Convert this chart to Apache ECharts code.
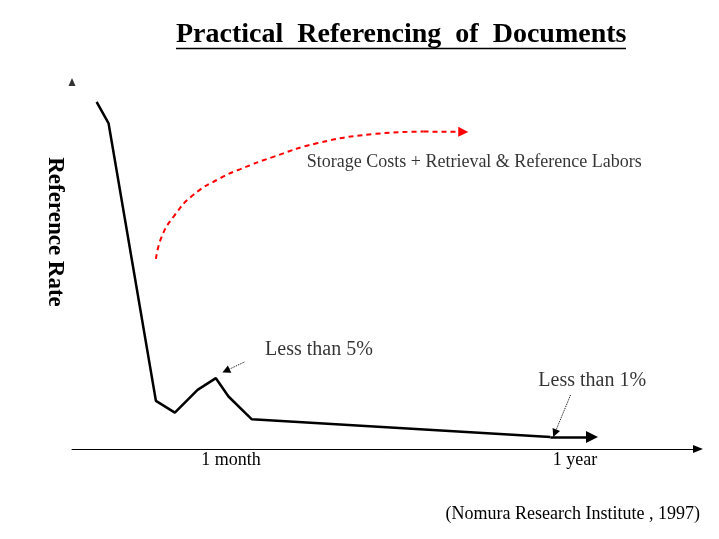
<!DOCTYPE html>
<html>
<head>
<meta charset="utf-8">
<script src="https://cdn.jsdelivr.net/npm/echarts@6/dist/echarts.min.js"></script>
<style>
html,body{margin:0;padding:0;background:#fff;}
#chart{width:719px;height:539px;}
</style>
</head>
<body>
<div id="chart"></div>
<script>
// ---- data ----
const titleText = 'Practical  Referencing  of  Documents';
const sourceText = '(Nomura Research Institute , 1997)';
const yAxisName = 'Reference Rate';
const xTickValues = [25.2, 79.7];
const xTickLabels = ['1 month', '1 year'];
// reference rate curve (abstract units 0-100)
const rateX = [3.9, 5.8, 13.3, 16.3, 19.9, 22.8, 24.8, 28.5, 75.8, 82.4];
const rateY = [94.6, 88.7, 13.1, 9.9, 16.1, 19.3, 14.3, 8.1, 3.3, 3.3];
// storage cost trend curve
const costX = [13.3, 14.2, 16.1, 19.2, 23.5, 26.6, 31.9, 38.8, 47.7, 55.7, 62.0];
const costY = [51.8, 57.8, 63.3, 69.2, 73.8, 76.2, 79.6, 83.3, 85.8, 86.5, 86.4];
// annotation texts
const noteText = ['Storage Costs + Retrieval & Reference Labors', 'Less than 5%', 'Less than 1%'];
const noteX = [37.2, 30.6, 73.9];
const noteY = [78.2, 27.0, 18.5];
// annotation pointer arrows
const pointerFromX = [27.3, 79.0];
const pointerFromY = [23.7, 14.7];
const pointerToX = [24.4, 76.5];
const pointerToY = [21.3, 4.3];
// y axis arrow head
const yArrowX = [0];
const yArrowY = [100];

// ---- chart ----
const serif = 'Liberation Serif, Times New Roman, serif';
const chart = echarts.init(document.getElementById('chart'), null, {renderer: 'canvas'});

const ratePts = rateX.map((x, i) => [x, rateY[i]]);
const costPts = costX.map((x, i) => [x, costY[i]]);
const n = ratePts.length, m = costPts.length;

const noteSizes = [18, 20, 20];

const option = {
  backgroundColor: '#ffffff',
  animation: false,
  title: [
    {
      text: titleText,
      left: 171, top: 16,
      textStyle: {fontFamily: serif, fontWeight: 'bold', fontSize: 28, color: '#000'}
    },
    {
      text: sourceText,
      right: 14, top: 500,
      textStyle: {fontFamily: serif, fontWeight: 'normal', fontSize: 18, color: '#000'}
    }
  ],
  graphic: [
    {type: 'line', shape: {x1: 176, y1: 48.5, x2: 626, y2: 48.5}, style: {stroke: '#000', lineWidth: 1.5}}
  ],
  grid: {left: 72, right: 21, top: 82, bottom: 90, containLabel: false, outerBoundsMode: 'none'},
  xAxis: {
    type: 'value', min: 0, max: 99.2,
    axisLine: {show: true, lineStyle: {color: '#000', width: 1}, symbol: ['none', 'triangle'], symbolSize: [8, 10]},
    axisTick: {show: false},
    splitLine: {show: false},
    axisLabel: {
      show: true,
      customValues: xTickValues,
      margin: 2,
      fontFamily: serif, fontSize: 18, color: '#000',
      formatter: v => { const i = xTickValues.indexOf(v); return i >= 0 ? xTickLabels[i] : ''; }
    }
  },
  yAxis: {
    type: 'value', min: 0, max: 100,
    axisLine: {show: false},
    axisTick: {show: false},
    splitLine: {show: false},
    axisLabel: {show: false},
    name: yAxisName,
    nameLocation: 'middle',
    nameRotate: -90,
    nameGap: 6,
    nameTextStyle: {fontFamily: serif, fontWeight: 'bold', fontSize: 23, color: '#000', padding: [0, 67, 0, 0]}
  },
  series: [
    {
      type: 'line', data: ratePts.slice(0, n - 1), symbol: 'none',
      lineStyle: {color: '#000', width: 2.5}, z: 3
    },
    {
      type: 'lines', coordinateSystem: 'cartesian2d',
      data: [{coords: [ratePts[n - 2], ratePts[n - 1]]}],
      symbol: ['none', 'triangle'], symbolSize: 12,
      lineStyle: {color: '#000', width: 2.5, opacity: 1, curveness: 0}, z: 3
    },
    {
      type: 'line', data: costPts.slice(0, m - 1), symbol: 'none', smooth: true,
      lineStyle: {color: '#ff0000', width: 2, type: [5, 4]}, z: 2
    },
    {
      type: 'lines', coordinateSystem: 'cartesian2d',
      data: [{coords: [costPts[m - 2], costPts[m - 1]]}],
      symbol: ['none', 'triangle'], symbolSize: 10,
      lineStyle: {color: '#ff0000', width: 2, type: [5, 4], opacity: 1, curveness: 0}, z: 2
    },
    {
      type: 'lines', coordinateSystem: 'cartesian2d',
      data: pointerFromX.map((x, i) => ({coords: [[x, pointerFromY[i]], [pointerToX[i], pointerToY[i]]]})),
      symbol: ['none', 'triangle'], symbolSize: 8,
      lineStyle: {color: '#000', width: 1, type: 'dotted', opacity: 1, curveness: 0}, z: 4
    },
    {
      type: 'scatter',
      data: yArrowX.map((x, i) => [x, yArrowY[i]]),
      symbol: 'triangle', symbolSize: [7, 8],
      itemStyle: {color: '#000'}, z: 5
    },
    {
      type: 'scatter',
      data: noteX.map((x, i) => ({
        value: [x, noteY[i]], name: noteText[i],
        label: {fontSize: noteSizes[i]}
      })),
      symbolSize: 0,
      itemStyle: {color: 'transparent'},
      label: {
        show: true, position: 'right', distance: 0,
        formatter: p => p.name,
        fontFamily: serif, color: '#000'
      },
      z: 5
    }
  ]
};
chart.setOption(option);
</script>
</body>
</html>
